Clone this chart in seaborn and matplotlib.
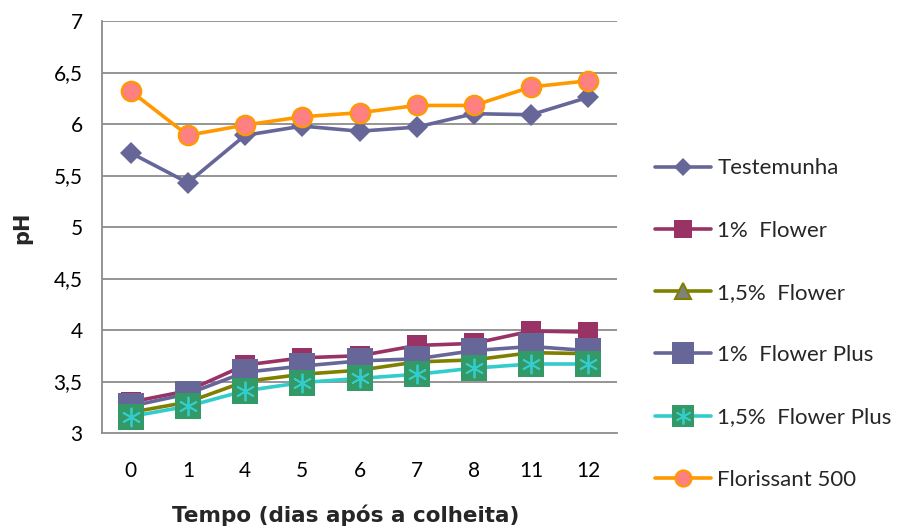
import matplotlib
matplotlib.use("Agg")
import matplotlib.pyplot as plt
from matplotlib.lines import Line2D
from matplotlib.legend_handler import HandlerTuple
import seaborn as sns
import pandas as pd

days = ["0", "1", "4", "5", "6", "7", "8", "11", "12"]
testemunha = [5.72, 5.43, 5.89, 5.98, 5.93, 5.97, 6.10, 6.09, 6.26]
flower_1 = [3.30, 3.41, 3.66, 3.73, 3.75, 3.85, 3.87, 3.99, 3.98]
flower_15 = [3.20, 3.30, 3.50, 3.57, 3.61, 3.69, 3.71, 3.78, 3.77]
flower_plus_1 = [3.26, 3.38, 3.59, 3.65, 3.70, 3.72, 3.80, 3.84, 3.80]
flower_plus_15 = [3.16, 3.26, 3.41, 3.49, 3.53, 3.57, 3.63, 3.67, 3.67]
florissant = [6.32, 5.89, 5.99, 6.07, 6.11, 6.18, 6.18, 6.36, 6.42]

series_names = ["Testemunha", "1%  Flower", "1,5%  Flower", "1%  Flower Plus",
                "1,5%  Flower Plus", "Florissant 500"]
series_values = [testemunha, flower_1, flower_15, flower_plus_1, flower_plus_15, florissant]
y_ticks = [3, 3.5, 4, 4.5, 5, 5.5, 6, 6.5, 7]

sns.set_theme(style="white")
plt.rcParams["font.family"] = ["Lato", "DejaVu Sans"]

styles = {
    "Testemunha": dict(color="#666699", marker="D", markersize=11, mfc="#666699", mec="#666699", mew=0),
    "1%  Flower": dict(color="#993366", marker="s", markersize=15, mfc="#993366", mec="#993366", mew=0),
    "1,5%  Flower": dict(color="#808000", marker="^", markersize=14, mfc="#808080", mec="#808000", mew=1.5),
    "1%  Flower Plus": dict(color="#666699", marker="s", markersize=18.5, mfc="#666699", mec="#666699", mew=0),
    "1,5%  Flower Plus": dict(color="#33CCCC", marker="s", markersize=18.5, mfc="#339966", mec="#339966", mew=0),
    "Florissant 500": dict(color="#FF9900", marker="o", markersize=14, mfc="#FF8080", mec="#FF9900", mew=1.6),
}
star = dict(marker=(6, 2, 0), markersize=14, mec="#33CCCC", mew=1.3)

pos = list(range(len(days)))
frames = []
for name, vals in zip(series_names, series_values):
    frames.append(pd.DataFrame({"pos": pos, "pH": vals, "serie": name}))
df = pd.concat(frames, ignore_index=True)

fig = plt.figure(figsize=(9.2, 5.28), dpi=100)
ax = fig.add_axes([102 / 920, 1 - 433 / 528, 515 / 920, 412 / 528])

# horizontal gridlines
for yv in y_ticks[1:]:
    ax.axhline(yv, color="#8c8c8c", lw=1.3, zorder=0)

draw_order = ["1%  Flower", "1,5%  Flower", "1%  Flower Plus", "1,5%  Flower Plus",
              "Testemunha", "Florissant 500"]
for z, name in enumerate(draw_order):
    st = styles[name]
    sub = df[df["serie"] == name]
    sns.lineplot(data=sub, x="pos", y="pH", ax=ax, color=st["color"], lw=2.6,
                 marker=st["marker"], markersize=st["markersize"],
                 markerfacecolor=st["mfc"], markeredgecolor=st["mec"],
                 markeredgewidth=st["mew"], zorder=3 + z, legend=False)
    if name == "1,5%  Flower Plus":
        sns.lineplot(data=sub, x="pos", y="pH", ax=ax, color="#33CCCC", lw=0,
                     marker=star["marker"], markersize=star["markersize"],
                     markeredgecolor=star["mec"], markeredgewidth=star["mew"],
                     zorder=3 + z + 0.5, legend=False)

ax.set_xlim(-0.5, len(days) - 0.5)
ax.set_ylim(3, 7)
ax.set_yticks(y_ticks)
ax.set_yticklabels([f"{v:g}".replace(".", ",") for v in y_ticks], fontsize=15, color="#000000")
ax.set_xticks(pos)
ax.set_xticklabels(days, fontsize=15, color="#000000")
ax.set_xticks([p - 0.5 for p in pos] + [len(days) - 0.5], minor=True)
ax.tick_params(axis="x", which="major", length=0, pad=20.5)
ax.tick_params(axis="x", which="minor", length=8, width=1.3, color="#8c8c8c", direction="out")
ax.tick_params(axis="y", which="major", length=7, width=1.3, color="#8c8c8c", direction="out", pad=7)
ax.tick_params(axis="x", which="major", bottom=False)

for side in ["top", "right"]:
    ax.spines[side].set_visible(False)
for side in ["left", "bottom"]:
    ax.spines[side].set_color("#8c8c8c")
    ax.spines[side].set_linewidth(1.3)

ax.set_xlabel("")
ax.set_ylabel("")
fig.text(346 / 920, 1 - 515 / 528, "Tempo (dias após a colheita)", ha="center", va="center",
         fontsize=15.5, fontweight="bold", family="DejaVu Sans")
fig.text(22 / 920, 1 - 228 / 528, "pH", ha="center", va="center", rotation=90,
         fontsize=15, fontweight="bold", family="DejaVu Sans")

handles = []
for name in series_names:
    st = styles[name]
    h = Line2D([], [], color=st["color"], lw=2.6, marker=st["marker"],
               markersize=st["markersize"] * 0.82, markerfacecolor=st["mfc"],
               markeredgecolor=st["mec"], markeredgewidth=st["mew"])
    if name == "1,5%  Flower Plus":
        s = Line2D([], [], marker=star["marker"], markersize=star["markersize"] * 0.82,
                   markeredgecolor=star["mec"], markeredgewidth=star["mew"], linestyle="none")
        h = (h, s)
    handles.append(h)

fig.legend(handles, series_names, loc="center left", bbox_to_anchor=(635 / 920, 1 - 324 / 528),
           frameon=False, fontsize=16, handlelength=2.5, handletextpad=0.3,
           labelspacing=1.9, handler_map={tuple: HandlerTuple(ndivide=1)})

fig.savefig("out.png", dpi=100)
